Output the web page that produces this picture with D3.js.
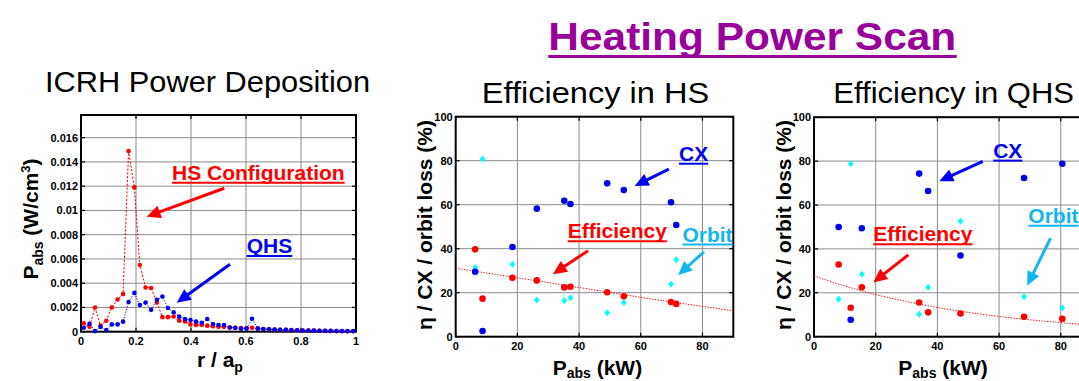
<!DOCTYPE html>
<html>
<head>
<meta charset="utf-8">
<script src="https://cdn.jsdelivr.net/npm/d3@7"></script>
<style>
  html, body { margin: 0; padding: 0; background: #fff; overflow: hidden; }
  svg { display: block; font-family: Arial, "Liberation Sans", sans-serif; }
</style>
</head>
<body>
<div id="chart"></div>
<script>
// ---- data ----

// ICRH power deposition profile (r / a_p)
const rVals = [0.010, 0.031, 0.051, 0.071, 0.092, 0.112, 0.133, 0.153, 0.173, 0.194,
  0.214, 0.235, 0.255, 0.276, 0.296, 0.316, 0.337, 0.357, 0.378, 0.398,
  0.418, 0.439, 0.459, 0.480, 0.500, 0.520, 0.541, 0.561, 0.582, 0.602,
  0.622, 0.643, 0.663, 0.684, 0.704, 0.724, 0.745, 0.765, 0.786, 0.806,
  0.827, 0.847, 0.867, 0.888, 0.908, 0.929, 0.949, 0.969, 0.990];
const hsPabs = [0.0007, 0.0004, 0.0020, 0.0005, 0.0009, 0.0020, 0.00265, 0.0031, 0.0149, 0.0119,
  0.0055, 0.00365, 0.0036, 0.0024, 0.0012, 0.0012, 0.00125, 0.0009, 0.00085, 0.0006,
  0.00055, 0.00055, 0.0005, 0.00045, 0.0004, 0.0004, 0.00035, 0.00033, 0.0003, 0.0003,
  0.00032, 0.00025, 0.00022, 0.0002, 0.00018, 0.00016, 0.00015, 0.00013, 0.00012, 0.0001,
  0.0001, 0.00009, 0.00008, 0.00007, 0.00006, 0.00005, 0.00005, 0.00004, 0.00004];
const qhsPabs = [0.00033, 0.00066, 0.00005, 0.0004, 0.00014, 0.0006, 0.0006, 0.00083, 0.00245, 0.0032,
  0.0022, 0.0024, 0.0018, 0.00264, 0.0029, 0.00195, 0.0016, 0.00124, 0.00105, 0.00096,
  0.00083, 0.00074, 0.00105, 0.00064, 0.00055, 0.00055, 0.00035, 0.00033, 0.00025, 0.00025,
  0.00107, 0.00025, 0.00022, 0.0002, 0.00018, 0.00016, 0.00015, 0.00013, 0.00012, 0.0001,
  0.0001, 0.00009, 0.00008, 0.00007, 0.00007, 0.00006, 0.00006, 0.00005, 0.00005];
const rTicks = [0, 0.2, 0.4, 0.6, 0.8, 1];
const rTickLabels = ["0", "0.2", "0.4", "0.6", "0.8", "1"];
const pTicks = [0, 0.002, 0.004, 0.006, 0.008, 0.01, 0.012, 0.014, 0.016];
const pTickLabels = ["0", "0.002", "0.004", "0.006", "0.008", "0.01", "0.012", "0.014", "0.016"];

// Efficiency in HS (kW, %)
const hsPow = [6.3, 8.7, 18.4, 26.3, 35.2, 37.2, 49.1, 54.5, 69.8, 71.5];
const hsCX = [29.5, 2.6, 40.8, 58.2, 61.8, 60.3, 69.7, 66.7, 61.1, 50.8];
const hsEff = [39.7, 17.3, 26.8, 25.6, 22.4, 22.7, 20.2, 18.4, 15.8, 14.9];
const hsOrbit = [31.4, 80.8, 32.9, 16.7, 16.5, 17.7, 10.9, 15.5, 23.8, 35.0];
const hsFitPow = [0, 30, 60, 90];
const hsFitEff = [31.1, 24.6, 17.9, 11.8];

// Efficiency in QHS (kW, %)
const qhsPow = [8.0, 11.9, 15.5, 34.1, 37.0, 47.5, 68.1, 80.5];
const qhsCX = [50.0, 7.7, 49.4, 74.3, 66.4, 37.0, 72.3, 78.8];
const qhsEff = [32.9, 13.2, 22.5, 15.6, 11.1, 10.6, 9.1, 8.2];
const qhsOrbit = [17.1, 78.8, 28.4, 10.2, 22.5, 52.6, 18.2, 13.2];
const qhsFitPow = [0, 10, 20, 30, 40, 50, 60, 70, 80, 90];
const qhsFitEff = [27.7, 23.1, 19.2, 16.0, 13.3, 11.1, 9.2, 7.7, 6.4, 5.3];

const powTicks = [0, 20, 40, 60, 80];
const pctTicks = [0, 20, 40, 60, 80, 100];

// ---- colours ----
const RED = "#ff0000", BLUE = "#0000f0", CYAN = "#00ffff", ORBIT = "#12b6ee", PURPLE = "#990099";

const svg = d3.select("#chart").append("svg")
    .attr("width", 1079)
    .attr("height", 381);

// frame, grid and ticks in matlab style
function drawAxes(g, x, y, xt, xl, yt, yl) {
    const [x0, x1] = x.range();
    const [y0, y1] = y.range();
    g.append("g").selectAll("line.gx").data(xt.slice(1)).join("line")
        .attr("x1", d => x(d)).attr("x2", d => x(d)).attr("y1", y0).attr("y2", y1)
        .attr("stroke", "#8a8a8a").attr("stroke-width", 1);
    g.append("g").selectAll("line.gy").data(yt.slice(1)).join("line")
        .attr("x1", x0).attr("x2", x1).attr("y1", d => y(d)).attr("y2", d => y(d))
        .attr("stroke", "#8a8a8a").attr("stroke-width", 1);
    // inner ticks
    const tk = g.append("g").attr("stroke", "#000").attr("stroke-width", 1.2);
    xt.forEach(d => {
        tk.append("line").attr("x1", x(d)).attr("x2", x(d)).attr("y1", y0).attr("y2", y0 - 4);
        tk.append("line").attr("x1", x(d)).attr("x2", x(d)).attr("y1", y1).attr("y2", y1 + 4);
    });
    yt.forEach(d => {
        tk.append("line").attr("x1", x0).attr("x2", x0 + 4).attr("y1", y(d)).attr("y2", y(d));
        tk.append("line").attr("x1", x1).attr("x2", x1 - 4).attr("y1", y(d)).attr("y2", y(d));
    });
    g.append("rect")
        .attr("x", x0).attr("y", y1).attr("width", x1 - x0).attr("height", y0 - y1)
        .attr("fill", "none").attr("stroke", "#000").attr("stroke-width", 2);
    g.append("g").selectAll("text").data(xt).join("text")
        .attr("x", d => x(d)).attr("y", y0 + 13.5)
        .attr("text-anchor", "middle")
        .attr("font-size", 11).attr("font-weight", "bold")
        .text((d, i) => xl[i]);
    g.append("g").selectAll("text").data(yt).join("text")
        .attr("x", x0 - 3).attr("y", d => y(d)).attr("dy", "0.36em")
        .attr("text-anchor", "end")
        .attr("font-size", 11).attr("font-weight", "bold")
        .text((d, i) => yl[i]);
}

function arrow(g, x1, y1, x2, y2, color) {
    const dx = x2 - x1, dy = y2 - y1, L = Math.hypot(dx, dy);
    const ux = dx / L, uy = dy / L, hl = 14, hw = 6.5;
    const bx = x2 - ux * hl, by = y2 - uy * hl;
    g.append("line")
        .attr("x1", x1).attr("y1", y1).attr("x2", bx + ux * 3).attr("y2", by + uy * 3)
        .attr("stroke", color).attr("stroke-width", 3);
    g.append("polygon")
        .attr("points", [[x2, y2], [bx - uy * hw, by + ux * hw], [bx + uy * hw, by - ux * hw]].map(p => p.join(",")).join(" "))
        .attr("fill", color);
}

function label(g, xx, yy, txt, color) {
    const t = g.append("text")
        .attr("x", xx).attr("y", yy)
        .attr("font-size", 21).attr("font-weight", "bold")
        .attr("fill", color).text(txt);
    const w = t.node().getComputedTextLength();
    g.append("line")
        .attr("x1", xx).attr("x2", xx + w).attr("y1", yy + 2.8).attr("y2", yy + 2.8)
        .attr("stroke", color).attr("stroke-width", 2);
}

const diamond = "M0,-3.5L2.9,0L0,3.5L-2.9,0Z";

// ---------- panel 1 : ICRH power deposition ----------
{
    const g = svg.append("g");
    const x = d3.scaleLinear().domain([0, 1]).range([81, 356]);
    const y = d3.scaleLinear().domain([0, 0.01787]).range([331.7, 115]);
    drawAxes(g, x, y, rTicks, rTickLabels, pTicks, pTickLabels);

    const series = [
        { vals: hsPabs, color: RED, dash: "2.2,1.6" },
        { vals: qhsPabs, color: BLUE, dash: "1.2,1.6" }
    ];
    series.forEach(s => {
        const pts = rVals.map((r, i) => [r, s.vals[i]]);
        g.append("path")
            .attr("d", d3.line().x(d => x(d[0])).y(d => y(d[1]))(pts))
            .attr("fill", "none").attr("stroke", s.color)
            .attr("stroke-width", 1).attr("stroke-dasharray", s.dash);
        g.append("g").selectAll("circle").data(pts).join("circle")
            .attr("cx", d => x(d[0])).attr("cy", d => y(d[1]))
            .attr("r", 2.3).attr("fill", s.color);
    });

    label(g, x(0.331), y(0.01251), "HS Configuration", RED);
    arrow(g, x(0.521), y(0.01183), x(0.2385), y(0.00948), RED);
    label(g, x(0.6025), y(0.00647), "QHS", BLUE);
    arrow(g, x(0.5418), y(0.00556), x(0.348), y(0.00239), BLUE);

    // axis titles
    const yl = g.append("text")
        .attr("transform", "translate(37.5,219) rotate(-90)")
        .attr("text-anchor", "middle")
        .attr("font-size", 21).attr("font-weight", "bold");
    yl.append("tspan").text("P");
    yl.append("tspan").attr("font-size", 14).attr("dy", 5).text("abs");
    yl.append("tspan").attr("dy", -5).text(" (W/cm");
    yl.append("tspan").attr("font-size", 13).attr("dy", -8).text("3");
    yl.append("tspan").attr("dy", 8).text(")");

    const xl = g.append("text")
        .attr("x", 197).attr("y", 366.5)
        .attr("font-size", 21).attr("font-weight", "bold");
    xl.append("tspan").text("r / a");
    xl.append("tspan").attr("font-size", 14).attr("dy", 5).text("p");

    g.append("text")
        .attr("x", 45).attr("y", 91.7)
        .attr("font-size", 29)
        .attr("textLength", 325).attr("lengthAdjust", "spacingAndGlyphs")
        .text("ICRH Power Deposition");
}

// ---------- efficiency panels ----------
function effPanel(opt) {
    const g = svg.append("g");
    const x = d3.scaleLinear().domain([0, 90]).range(opt.xr);
    const y = d3.scaleLinear().domain([0, 100]).range(opt.yr);
    drawAxes(g, x, y, powTicks, powTicks.map(String), pctTicks, pctTicks.map(String));

    // fit line
    g.append("path")
        .attr("d", d3.line().curve(d3.curveMonotoneX).x(d => x(d[0])).y(d => y(d[1]))(
            opt.fitPow.map((p, i) => [p, opt.fitEff[i]])))
        .attr("fill", "none").attr("stroke", RED)
        .attr("stroke-width", 1).attr("stroke-dasharray", "1.3,1.5");

    g.append("g").selectAll("path").data(opt.pow.map((p, i) => [p, opt.orbit[i]])).join("path")
        .attr("d", diamond)
        .attr("transform", d => `translate(${x(d[0])},${y(d[1])})`)
        .attr("fill", CYAN);
    g.append("g").selectAll("circle").data(opt.pow.map((p, i) => [p, opt.cx[i]])).join("circle")
        .attr("cx", d => x(d[0])).attr("cy", d => y(d[1])).attr("r", 3.3).attr("fill", BLUE);
    g.append("g").selectAll("circle").data(opt.pow.map((p, i) => [p, opt.eff[i]])).join("circle")
        .attr("cx", d => x(d[0])).attr("cy", d => y(d[1])).attr("r", 3.3).attr("fill", RED);

    const a = opt.ann;
    label(g, x(a.cx[0]), y(a.cx[1]), "CX", BLUE);
    arrow(g, x(a.cxArrow[0]), y(a.cxArrow[1]), x(a.cxArrow[2]), y(a.cxArrow[3]), BLUE);
    label(g, x(a.eff[0]), y(a.eff[1]), "Efficiency", RED);
    arrow(g, x(a.effArrow[0]), y(a.effArrow[1]), x(a.effArrow[2]), y(a.effArrow[3]), RED);
    label(g, x(a.orb[0]), y(a.orb[1]), "Orbit", ORBIT);
    arrow(g, x(a.orbArrow[0]), y(a.orbArrow[1]), x(a.orbArrow[2]), y(a.orbArrow[3]), ORBIT);

    g.append("text")
        .attr("transform", `translate(${opt.yLabelX},225) rotate(-90)`)
        .attr("text-anchor", "middle")
        .attr("font-size", 21).attr("font-weight", "bold")
        .text("η / CX / orbit loss (%)");

    const xl = g.append("text")
        .attr("x", opt.xLabelX).attr("y", 374.5)
        .attr("font-size", 21).attr("font-weight", "bold");
    xl.append("tspan").text("P");
    xl.append("tspan").attr("font-size", 14).attr("dy", 3.5).text("abs");
    xl.append("tspan").attr("dy", -3.5).text(" (kW)");

    g.append("text")
        .attr("x", opt.titleX).attr("y", 103.3)
        .attr("font-size", 29)
        .attr("textLength", opt.titleW).attr("lengthAdjust", "spacingAndGlyphs")
        .text(opt.title);
}

effPanel({
    xr: [455.7, 733.3], yr: [336.7, 116.7],
    pow: hsPow, cx: hsCX, eff: hsEff, orbit: hsOrbit,
    fitPow: hsFitPow, fitEff: hsFitEff,
    ann: {
        cx: [72.4, 79.9], cxArrow: [69.1, 76.2, 58.0, 68.5],
        eff: [36.3, 44.7], effArrow: [42.9, 39.1, 31.5, 28.4],
        orb: [73.5, 43.2], orbArrow: [80.5, 38.6, 72.1, 28.0]
    },
    yLabelX: 431.5, xLabelX: 552.7,
    title: "Efficiency in HS", titleX: 481.7, titleW: 227.6
});

effPanel({
    xr: [814, 1091.6], yr: [336.7, 117.2],
    pow: qhsPow, cx: qhsCX, eff: qhsEff, orbit: qhsOrbit,
    fitPow: qhsFitPow, fitEff: qhsFitEff,
    ann: {
        cx: [58.1, 81.5], cxArrow: [54.7, 79.9, 40.6, 70.8],
        eff: [19.2, 43.4], effArrow: [30.6, 37.3, 19.2, 24.7],
        orb: [69.5, 51.8], orbArrow: [76.7, 44.9, 69.1, 23.2]
    },
    yLabelX: 790.5, xLabelX: 898.3,
    title: "Efficiency in QHS", titleX: 833.3, titleW: 240.7
});

// ---------- main heading ----------
svg.append("text")
    .attr("x", 548.3).attr("y", 50)
    .attr("font-size", 39).attr("font-weight", "bold").attr("fill", PURPLE)
    .attr("textLength", 408).attr("lengthAdjust", "spacingAndGlyphs")
    .text("Heating Power Scan");
svg.append("line")
    .attr("x1", 548.3).attr("x2", 956.7).attr("y1", 56.5).attr("y2", 56.5)
    .attr("stroke", PURPLE).attr("stroke-width", 3);
</script>
</body>
</html>
